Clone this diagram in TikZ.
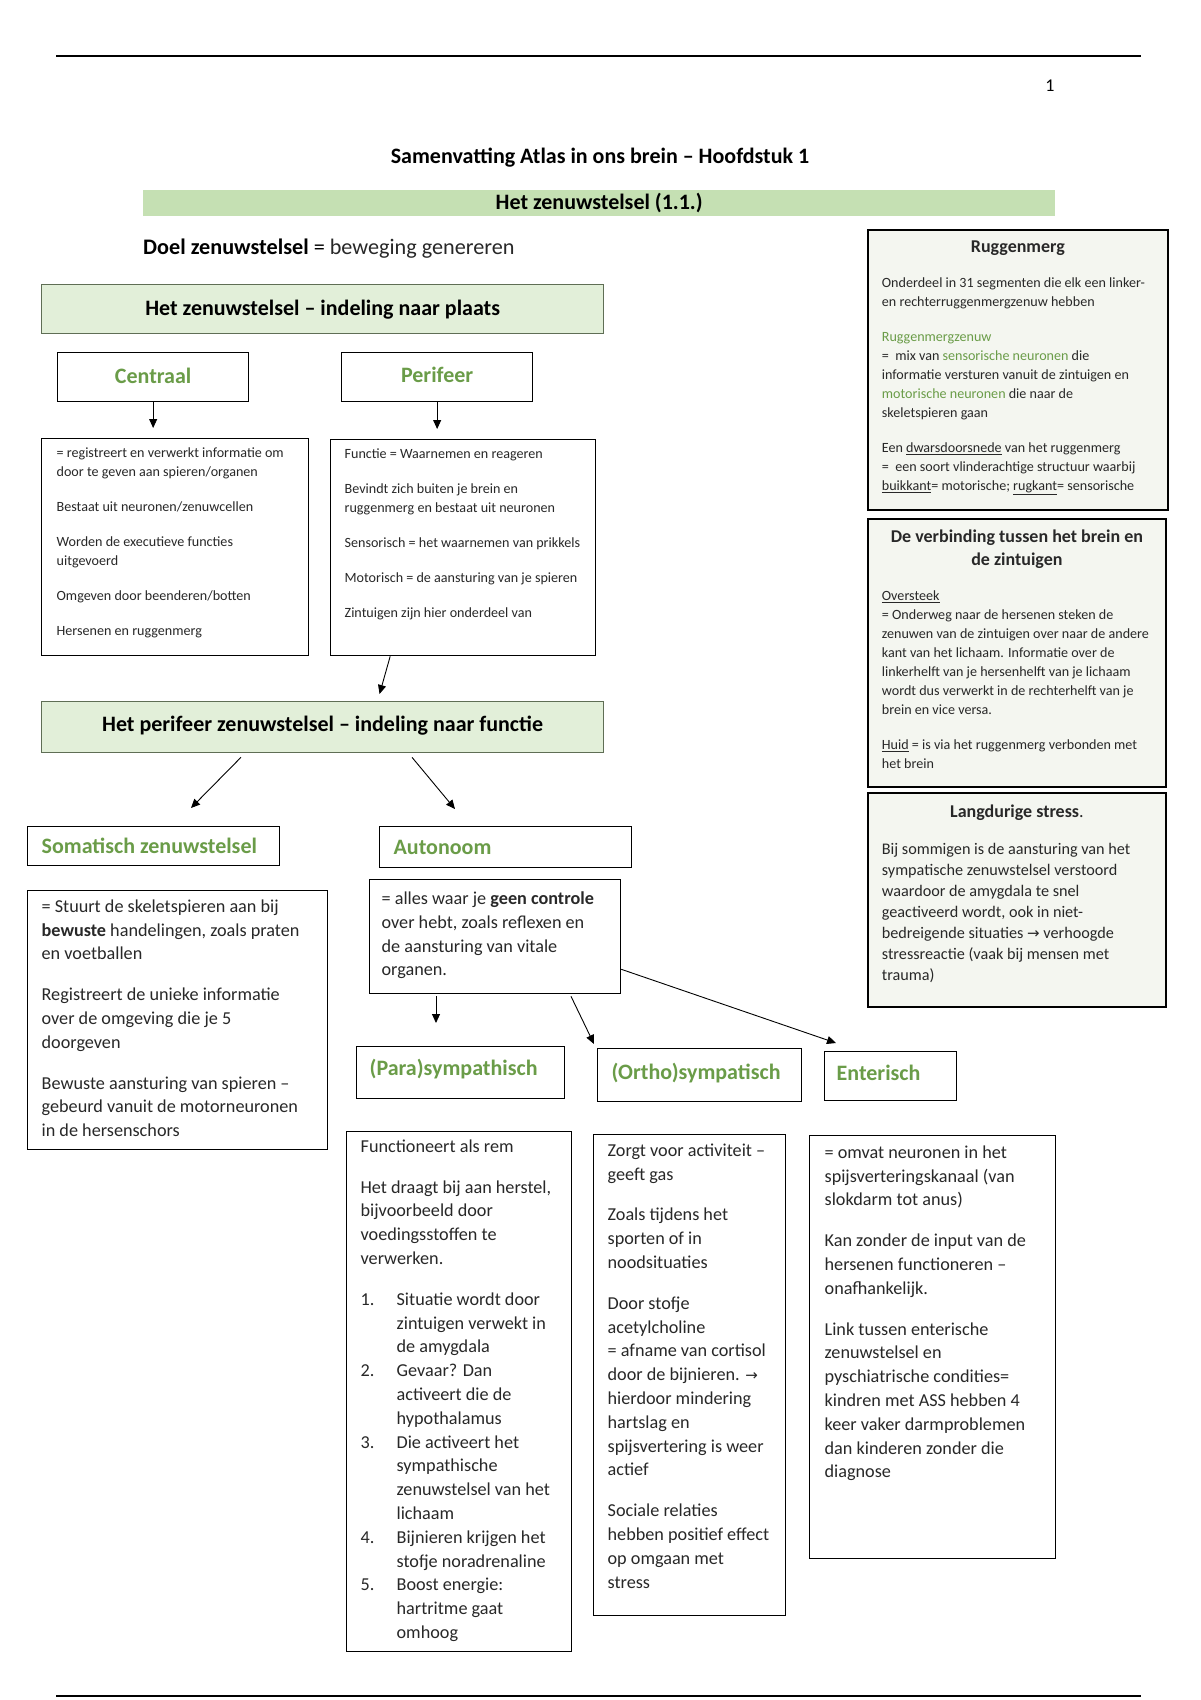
\documentclass[tikz,border=0pt]{standalone}
\usepackage{fontspec}
\setmainfont{Carlito}
\newfontfamily\dvs{DejaVu Sans}
\usetikzlibrary{arrows.meta,calc}
\definecolor{tg}{RGB}{106,156,72}
\definecolor{barg}{RGB}{197,224,179}
\definecolor{hfill}{RGB}{226,239,217}
\definecolor{hdraw}{RGB}{95,110,85}
\definecolor{rfill}{RGB}{244,246,240}
\definecolor{txt}{RGB}{40,40,40}
\newcommand\arrw{{\dvs\fontsize{15}{15}\selectfont →}}
\newcommand\fS{\fontsize{14.1}{19}\selectfont\parskip=16pt\relax}
\newcommand\fM{\fontsize{16.2}{21}\selectfont\parskip=16pt\relax}
\newcommand\fL{\fontsize{18.2}{23.8}\selectfont\parskip=17pt\relax}
\newcommand\fT{\bfseries\fontsize{18}{22.7}\selectfont}
\newcommand\li[2]{\par\hangindent=36pt\hangafter=1\noindent\makebox[36pt][l]{#1}#2}
% text box: name x1 y1 x2 y2 style padx pady text
\newcommand\mkbox[9]{%
 \pgfmathsetmacro\bw{#4-#2-2*#7}%
 \pgfmathsetmacro\bh{#5-#3-2*#8}%
 \node[#6, anchor=north west, inner xsep=#7pt, inner ysep=#8pt] (#1) at (#2,#3)
   {\parbox[c][\bh pt][t]{\bw pt}{\rightskip=0pt plus 1fil\relax #9}};
}
% label box: name x1 y1 x2 y2 style padx text
\newcommand\mklab[8]{%
 \pgfmathsetmacro\bw{#4-#2-2*#7}%
 \pgfmathsetmacro\bh{#5-#3}%
 \node[#6, anchor=north west, inner xsep=#7pt, inner ysep=0pt, text width=\bw pt, minimum height=\bh pt] (#1) at (#2,#3) {#8};
}
\tikzset{
  plain/.style={draw=black, line width=1.3pt, fill=white, text=txt},
  side/.style={draw=black, line width=1.8pt, fill=rfill, text=txt},
  head/.style={draw=hdraw, line width=1.3pt, fill=hfill, align=flush center, font=\bfseries\fontsize{22}{26}\selectfont, text=black},
  glab/.style={draw=black, line width=1.3pt, fill=white, font=\bfseries\fontsize{22}{26}\selectfont, text=tg},
  arw/.style={-{Triangle[length=9pt,width=8pt]}, line width=0.9pt, black},
}
\begin{document}
\begin{tikzpicture}[x=1pt,y=-1pt]
\fill[white] (0,0) rectangle (1200,1700);
\useasboundingbox (0,0) rectangle (1200,1700);
% page rules
\coordinate (tl1) at (56,56); \coordinate (tl2) at (1141,56);
\draw[line width=2pt] (tl1) -- (tl2);
\coordinate (bl1) at (56,1696); \coordinate (bl2) at (1141,1696);
\draw[line width=2pt] (bl1) -- (bl2);
\node[font=\fontsize{18}{20}\selectfont] (pnum) at (1050,86) {1};
\node[font=\bfseries\fontsize{22}{26}\selectfont] (title) at (600,158) {Samenvatting Atlas in ons brein – Hoofdstuk 1};
\node[fill=barg, anchor=north west, minimum width=912pt, minimum height=26pt, inner sep=0pt, font=\bfseries\fontsize{22}{26}\selectfont] (bar) at (143,190) {\raisebox{1pt}{Het zenuwstelsel (1.1.)}};
\node[anchor=west, inner sep=0pt, font=\fontsize{22.2}{26}\selectfont, text=black] (doel) at (143,249) {\textbf{Doel zenuwstelsel} = {\color{txt}beweging genereren}};

% left column headings
\mklab{h1}{41}{284}{603}{333}{head}{5}{\raisebox{2pt}{Het zenuwstelsel – indeling naar plaats}}
\mklab{cen}{57}{352}{248}{401}{glab,align=flush center}{5}{\raisebox{2pt}{Centraal}}
\mklab{per}{341}{352}{532}{401}{glab,align=flush center}{5}{\raisebox{5pt}{Perifeer}}

\mkbox{cenT}{41}{438}{308}{655}{plain}{15}{9}{\fS
= registreert en verwerkt informatie om\\ door te geven aan spieren/organen\par
Bestaat uit neuronen/zenuwcellen\par
Worden de executieve functies\\ uitgevoerd\par
Omgeven door beenderen/botten\par
Hersenen en ruggenmerg}

\mkbox{perT}{330}{439}{595}{655}{plain}{14}{9}{\fS
Functie = Waarnemen en reageren\par
Bevindt zich buiten je brein en\\ ruggenmerg en bestaat uit neuronen\par
Sensorisch = het waarnemen van prikkels\par
Motorisch = de aansturing van je spieren\par
Zintuigen zijn hier onderdeel van}

\mklab{h2}{41}{701}{603}{752}{head}{5}{\raisebox{6pt}{Het perifeer zenuwstelsel – indeling naar functie}}

\mklab{som}{27}{826}{279}{865}{glab,align=flush left}{14}{Somatisch zenuwstelsel}
\mklab{aut}{379}{826}{631}{867}{glab,align=flush left}{14}{Autonoom}

\mkbox{somT}{27}{890}{327}{1149}{plain}{14}{9}{\fL
= Stuurt de skeletspieren aan bij\\ \textbf{bewuste} handelingen, zoals praten\\ en voetballen\par
Registreert de unieke informatie\\ over de omgeving die je 5\\ doorgeven\par
Bewuste aansturing van spieren –\\ gebeurd vanuit de motorneuronen\\ in de hersenschors}

\mkbox{autT}{369}{879}{620}{993}{plain}{12}{12}{\fL
= alles waar je \textbf{geen controle}\\ over hebt, zoals reflexen en\\ de aansturing van vitale\\ organen.}

\mklab{para}{356}{1046}{564}{1098}{glab,align=flush left}{13}{\raisebox{11pt}{(Para)sympathisch}}
\mklab{orth}{597}{1048}{801}{1101}{glab,align=flush left}{14}{\raisebox{7pt}{(Ortho)sympatisch}}
\mklab{ent}{824}{1051}{956}{1100}{glab,align=flush left}{12}{\raisebox{7pt}{Enterisch}}

\mkbox{paraT}{346}{1131}{571}{1651}{plain}{14}{8}{\fL
Functioneert als rem\par
Het draagt bij aan herstel,\\ bijvoorbeeld door\\ voedingsstoffen te\\ verwerken.
\li{1.}{Situatie wordt door\\ zintuigen verwekt in\\ de amygdala}\parskip=0pt
\li{2.}{Gevaar? Dan\\ activeert die de\\ hypothalamus}
\li{3.}{Die activeert het\\ sympathische\\ zenuwstelsel van het\\ lichaam}
\li{4.}{Bijnieren krijgen het\\ stofje noradrenaline}
\li{5.}{Boost energie:\\ hartritme gaat\\ omhoog}}

\mkbox{orthT}{593}{1134}{785}{1615}{plain}{14}{9}{\fL
Zorgt voor activiteit –\\ geeft gas\par
Zoals tijdens het\\ sporten of in\\ noodsituaties\par
Door stofje\\ acetylcholine\\ = afname van cortisol\\ door de bijnieren. \arrw\\ hierdoor mindering\\ hartslag en\\ spijsvertering is weer\\ actief\par
Sociale relaties\\ hebben positief effect\\ op omgaan met\\ stress}

\mkbox{entT}{809}{1135}{1055}{1558}{plain}{15}{10}{\fL
= omvat neuronen in het\\ spijsverteringskanaal (van\\ slokdarm tot anus)\par
Kan zonder de input van de\\ hersenen functioneren –\\ onafhankelijk.\par
Link tussen enterische\\ zenuwstelsel en\\ pyschiatrische condities=\\ kindren met ASS hebben 4\\ keer vaker darmproblemen\\ dan kinderen zonder die\\ diagnose}

% right column
\mkbox{rug}{867}{229}{1167}{509}{side}{14}{11}{{\centering\fT Ruggenmerg\par}\fS
Onderdeel in 31 segmenten die elk een linker-\\ en rechterruggenmergzenuw hebben\par
{\color{tg}Ruggenmergzenuw}\\ = ~mix van {\color{tg}sensorische neuronen} die\\ informatie versturen vanuit de zintuigen en\\ {\color{tg}motorische neuronen} die naar de\\ skeletspieren gaan\par
Een \underline{dwarsdoorsnede} van het ruggenmerg\\ = ~een soort vlinderachtige structuur waarbij\\ \underline{buikkant}= motorische; \underline{rugkant}= sensorische}

\mkbox{ver}{867}{518}{1165}{786}{side}{14}{11}{{\centering\fT De verbinding tussen het brein en\\ de zintuigen\par}\fS
\underline{Oversteek}\\ = Onderweg naar de hersenen steken de\\ zenuwen van de zintuigen over naar de andere\\ kant van het lichaam. Informatie over de\\ linkerhelft van je hersenhelft van je lichaam\\ wordt dus verwerkt in de rechterhelft van je\\ brein en vice versa.\par
\underline{Huid} = is via het ruggenmerg verbonden met\\ het brein}

\mkbox{lang}{867}{792}{1165}{1006}{side}{14}{12}{{\centering\fT Langdurige stress\mdseries.\par}\fM
Bij sommigen is de aansturing van het\\ sympatische zenuwstelsel verstoord\\ waardoor de amygdala te snel\\ geactiveerd wordt, ook in niet-\\ bedreigende situaties \arrw{} verhoogde\\ stressreactie (vaak bij mensen met\\ trauma)}

% connectors
\draw[arw] (cen.south) -- ($(cenT.north -| cen.south)+(0,10pt)$);
\draw[arw] (per.south) -- ($(perT.north -| per.south)+(0,10pt)$);
\draw[arw] ($(perT.south west)!0.226!(perT.south east)$) -- ($(h2.north west)!0.601!(h2.north east)+(0,7pt)$);
\draw[arw] ($(h2.south west)+(200pt,-4pt)$) -- ($(som.north west)+(164pt,18pt)$);
\draw[arw] ($(h2.south west)+(371pt,-4pt)$) -- ($(aut.north west)+(76pt,17pt)$);
\draw[arw] ($(autT.south west)+(67pt,-2pt)$) -- ($(para.north west)+(80pt,23pt)$);
\draw[arw] ($(autT.south west)+(202pt,-2pt)$) -- ($(orth.north west)+(-3pt,4pt)$);
\draw[arw] ($(autT.south east)+(0,25pt)$) -- ($(ent.north west)+(12pt,8pt)$);
\end{tikzpicture}
\end{document}
